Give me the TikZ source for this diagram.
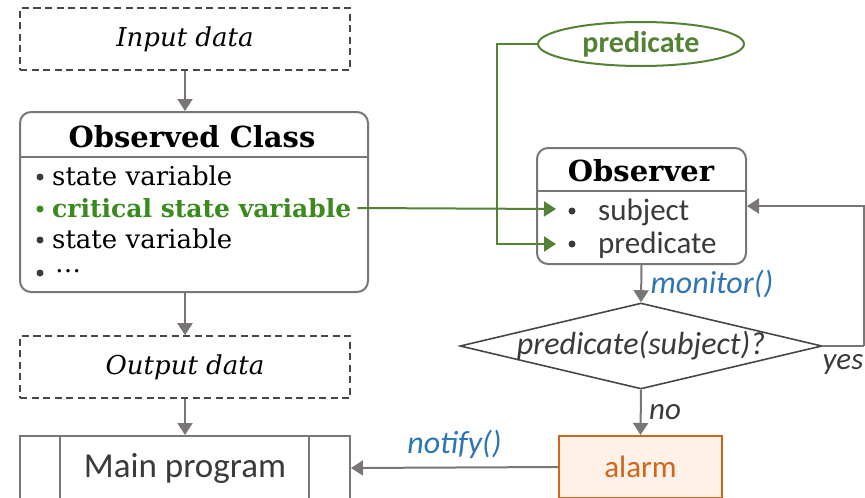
\documentclass[tikz,border=0pt]{standalone}
\usepackage{fontspec}
\setmainfont{DejaVu Serif}
\newfontfamily\calib{Carlito}
\usetikzlibrary{arrows.meta,shapes.geometric}
\definecolor{lgray}{HTML}{7A7676}
\definecolor{dgray}{HTML}{474747}
\definecolor{ggreen}{HTML}{548235}
\definecolor{cgreen}{HTML}{3A8A1C}
\definecolor{mblue}{HTML}{2E75B6}
\definecolor{morange}{HTML}{D0651C}
\definecolor{lorange}{HTML}{FDF1E8}
\definecolor{tgray}{HTML}{3A3A3A}
\tikzset{
  arr/.style={draw=lgray, line width=2pt, -{Triangle[width=15pt,length=12pt]}},
  garr/.style={draw=ggreen, line width=2pt, -{Triangle[width=15pt,length=12pt]}},
  dbox/.style={draw=dgray, dashed, dash pattern=on 7pt off 4.5pt, line width=1.6pt, minimum width=330pt, minimum height=62pt, font=\fontsize{26}{30}\selectfont\itshape},
  rbox/.style={draw=lgray, line width=2pt, rounded corners=11pt, fill=white},
  item/.style={anchor=west, inner sep=0pt, font=\fontsize{26}{30}\selectfont, text=black},
  bul/.style={circle, fill=#1, inner sep=0pt, minimum size=7pt},
  sitem/.style={anchor=west, inner sep=0pt, font=\calib\fontsize{31}{35}\selectfont, text=tgray},
  lbl/.style={font=\calib\itshape\fontsize{32}{36}\selectfont, text=mblue},
  ylbl/.style={font=\calib\itshape\fontsize{31}{35}\selectfont, text=tgray},
}
\begin{document}
\begin{tikzpicture}[x=1pt,y=-1pt]
\useasboundingbox (0,0) rectangle (865,498);
\clip (0,0) rectangle (865,498);
% left column
\node[dbox] (in) at (185,39) {Input data};
\node[rbox, minimum width=348pt, minimum height=180pt] (obs) at (194,202) {};
\draw[lgray, line width=1.5pt] (obs.west |- 0,157) -- (obs.east |- 0,157);
\node[font=\fontsize{29}{32}\selectfont\bfseries] (obst) at (192,137) {Observed Class};
\node[bul=tgray] (b1) at (40,177) {};
\node[item] (s1) at (52,176) {state variable};
\node[bul=cgreen] (b2) at (40,209) {};
\node[item, text=cgreen, font=\fontsize{25}{30}\selectfont\bfseries] (crit) at (52,208) {critical state variable};
\node[bul=tgray] (b3) at (40,240) {};
\node[item] (s3) at (52,239) {state variable};
\node[bul=tgray] (b4) at (40,273) {};
\node[item] (s4) at (55,271) {\dots};
\node[dbox] (out) at (185,367) {Output data};
\node[draw=lgray, line width=2pt, minimum width=330pt, minimum height=64pt, font=\calib\fontsize{35}{40}\selectfont, text=tgray] (main) at (185,468) {Main program};
\draw[lgray, line width=2pt] ([xshift=41pt]main.north west) -- ([xshift=41pt]main.south west);
\draw[lgray, line width=2pt] ([xshift=-42pt]main.north east) -- ([xshift=-42pt]main.south east);
% right column
\node[ellipse, draw=ggreen, line width=2pt, minimum width=206pt, minimum height=44pt, inner sep=0pt, text=ggreen, font=\calib\bfseries\fontsize{30}{34}\selectfont] (pred) at (641,44) {predicate};
\node[rbox, minimum width=209pt, minimum height=116pt] (obsv) at (641.5,206) {};
\draw[lgray, line width=1.5pt] (obsv.west |- 0,191) -- (obsv.east |- 0,191);
\node[font=\fontsize{29}{32}\selectfont\bfseries] (obsvt) at (641,171) {Observer};
\node[bul=tgray] (sb1) at (572,211) {};
\node[sitem] (subj) at (598,212) {subject};
\node[bul=tgray] (sb2) at (572,244) {};
\node[sitem] (predi) at (598,245) {predicate};
\node[diamond, draw=dgray, line width=1.6pt, minimum width=362pt, minimum height=86pt, inner sep=0pt] (dia) at (641,346) {};
\node[font=\calib\itshape\fontsize{32}{36}\selectfont, text=tgray] (diat) at (641,346) {predicate(subject)?};
\node[draw=morange, fill=lorange, line width=2pt, minimum width=163pt, minimum height=62pt, text=morange, font=\calib\fontsize{31}{35}\selectfont] (alarm) at (640.5,467) {alarm};
% connectors
\draw[arr] (in.south) -- (in.south |- obs.north);
\draw[arr] (in.south |- obs.south) -- (out.north);
\draw[arr] (out.south) -- (main.north);
\draw[garr] ([xshift=6pt]crit.east) -- ([xshift=20pt]obsv.west |- b2);
\draw[garr] (pred.west) -- ++(-40,0) |- ([xshift=20pt]obsv.west |- sb2);
\draw[arr] (obsv.south) -- node[lbl, anchor=west, xshift=5pt] {monitor()} (dia.north);
\draw[lgray, line width=2pt] (dia.east) -- ++(41,0) coordinate (yc);
\draw[arr] (yc) |- (obsv.east);
\node[ylbl] (yes) at (843,364) {yes};
\draw[arr] (dia.south) -- node[ylbl, anchor=west, xshift=4pt] {no} (alarm.north);
\draw[arr] (alarm.west) -- node[lbl, above=0pt, yshift=5pt] {notify()} (main.east);
\end{tikzpicture}
\end{document}
